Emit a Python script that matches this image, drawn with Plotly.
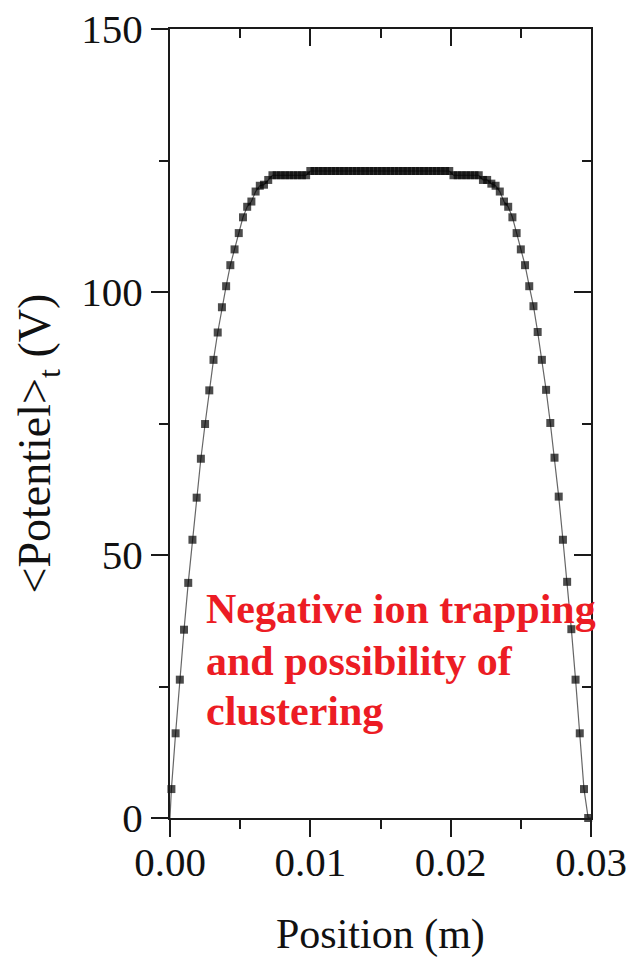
import plotly.graph_objects as go

# Position (m) of the sampled points (boundary points at 0 and 0.03 carry no marker)
position = [0.0,
    0.0001, 0.0004, 0.0007, 0.0010, 0.0013, 0.0016, 0.0019, 0.0022, 0.0025, 0.0028,
    0.0031, 0.0034, 0.0037, 0.0040, 0.0043, 0.0046, 0.0049, 0.0052, 0.0055, 0.0058,
    0.0061, 0.0064, 0.0067, 0.0070, 0.0073, 0.0076, 0.0079, 0.0082, 0.0085, 0.0088,
    0.0091, 0.0094, 0.0097, 0.0100, 0.0103, 0.0106, 0.0109, 0.0112, 0.0115, 0.0118,
    0.0121, 0.0124, 0.0127, 0.0130, 0.0133, 0.0136, 0.0139, 0.0142, 0.0145, 0.0148,
    0.0151, 0.0154, 0.0157, 0.0160, 0.0163, 0.0166, 0.0169, 0.0172, 0.0175, 0.0178,
    0.0181, 0.0184, 0.0187, 0.0190, 0.0193, 0.0196, 0.0199, 0.0202, 0.0205, 0.0208,
    0.0211, 0.0214, 0.0217, 0.0220, 0.0223, 0.0226, 0.0229, 0.0232, 0.0235, 0.0238,
    0.0241, 0.0244, 0.0247, 0.0250, 0.0253, 0.0256, 0.0259, 0.0262, 0.0265, 0.0268,
    0.0271, 0.0274, 0.0277, 0.0280, 0.0283, 0.0286, 0.0289, 0.0292, 0.0295, 0.0298,
    0.0300]

# Time-averaged potential (V)
potential = [0.0,
    5.5, 16.1, 26.3, 35.8, 44.7, 52.9, 60.9, 68.3, 74.9, 81.3,
    87.1, 92.3, 97.1, 101.1, 105.1, 108.1, 111.2, 114.2, 116.2, 117.2,
    119.1, 120.2, 120.4, 121.3, 122.2, 122.2, 122.2, 122.2, 122.2, 122.2,
    122.2, 122.2, 122.2, 123.0, 123.0, 123.0, 123.0, 123.0, 123.0, 123.0,
    123.0, 123.0, 123.0, 123.0, 123.0, 123.0, 123.0, 123.0, 123.0, 123.0,
    123.0, 123.0, 123.0, 123.0, 123.0, 123.0, 123.0, 123.0, 123.0, 123.0,
    123.0, 123.0, 123.0, 123.0, 123.0, 123.0, 123.0, 122.2, 122.2, 122.2,
    122.2, 122.2, 122.2, 122.2, 121.3, 121.3, 120.6, 120.2, 119.1, 117.2,
    116.2, 114.2, 111.2, 108.1, 105.1, 101.1, 97.3, 92.4, 87.1, 81.4,
    75.1, 68.5, 61.1, 52.9, 44.9, 35.9, 26.3, 16.1, 5.5, 0.0,
    0.0]

x_ticks = [0.00, 0.01, 0.02, 0.03]
x_tick_labels = ["0.00", "0.01", "0.02", "0.03"]
y_ticks = [0, 50, 100, 150]
y_tick_labels = ["0", "50", "100", "150"]

annotation_lines = ["Negative ion trapping", "and possibility of", "clustering"]
annotation_y = [39.8, 29.9, 20.4]
annotation_x = 0.00245

y_title = "<Potentiel><sub>t</sub> (V)"
x_title = "Position (m)"

marker_sizes = [0] + [8] * (len(position) - 2) + [0]

FONT = "Liberation Serif, Times New Roman, serif"
AX = "#1a1a1a"
TXT = "#111111"

fig = go.Figure()
fig.add_trace(go.Scatter(
    x=position, y=potential, mode="lines+markers",
    line=dict(color="#666666", width=1.2),
    marker=dict(symbol="square", size=marker_sizes, color="black", line=dict(width=0)),
    showlegend=False, hoverinfo="skip", cliponaxis=False,
))
# carrier trace for the mirrored (inside-tick) top/right axes
fig.add_trace(go.Scatter(
    x=position, y=potential, xaxis="x2", yaxis="y2", mode="lines",
    line=dict(width=0), opacity=0, showlegend=False, hoverinfo="skip",
))

for txt, yy in zip(annotation_lines, annotation_y):
    fig.add_annotation(
        x=annotation_x, y=yy, xref="x", yref="y", text=txt, showarrow=False,
        xanchor="left", yanchor="middle",
        font=dict(family=FONT, size=42, color="#ec1c24", weight="bold"),
    )

# y-axis title as rotated annotation
fig.add_annotation(
    x=-0.313, y=0.475, xref="paper", yref="paper", text=y_title, showarrow=False,
    textangle=-90, xanchor="center", yanchor="middle",
    font=dict(family=FONT, size=46, color=TXT),
)
# x-axis title
fig.add_annotation(
    x=0.5, y=-0.148, xref="paper", yref="paper", text=x_title, showarrow=False,
    xanchor="center", yanchor="middle",
    font=dict(family=FONT, size=42, color=TXT),
)

common_font = dict(family=FONT, size=41, color=TXT)

fig.update_layout(
    width=629, height=957,
    margin=dict(l=170, r=38, t=29, b=139, autoexpand=False),
    paper_bgcolor="white", plot_bgcolor="white",
    xaxis=dict(
        range=[0, 0.03], tickvals=x_ticks, ticktext=x_tick_labels, automargin=False,
        ticks="outside", ticklen=17, tickwidth=2, tickcolor=AX, ticklabelstandoff=-10,
        minor=dict(dtick=0.005, tick0=0, ticks="outside", ticklen=9, tickwidth=2, tickcolor=AX),
        showline=True, linewidth=2, linecolor=AX, showgrid=False, zeroline=False,
        tickfont=common_font,
    ),
    yaxis=dict(
        range=[0, 150], tickvals=y_ticks, ticktext=y_tick_labels, automargin=False,
        ticks="outside", ticklen=17, tickwidth=2, tickcolor=AX,
        minor=dict(dtick=25, tick0=0, ticks="outside", ticklen=9, tickwidth=2, tickcolor=AX),
        showline=True, linewidth=2, linecolor=AX, showgrid=False, zeroline=False,
        tickfont=common_font,
    ),
    xaxis2=dict(
        overlaying="x", side="top", anchor="y2", range=[0, 0.03], tickvals=x_ticks,
        automargin=False,
        showticklabels=False, ticks="inside", ticklen=17, tickwidth=2, tickcolor=AX,
        minor=dict(dtick=0.005, tick0=0, ticks="inside", ticklen=9, tickwidth=2, tickcolor=AX),
        showline=True, linewidth=2, linecolor=AX, showgrid=False, zeroline=False,
    ),
    yaxis2=dict(
        overlaying="y", side="right", anchor="x2", range=[0, 150], tickvals=y_ticks,
        automargin=False,
        showticklabels=False, ticks="inside", ticklen=17, tickwidth=2, tickcolor=AX,
        minor=dict(dtick=25, tick0=0, ticks="inside", ticklen=9, tickwidth=2, tickcolor=AX),
        showline=True, linewidth=2, linecolor=AX, showgrid=False, zeroline=False,
    ),
)

fig.write_html("out.html")
